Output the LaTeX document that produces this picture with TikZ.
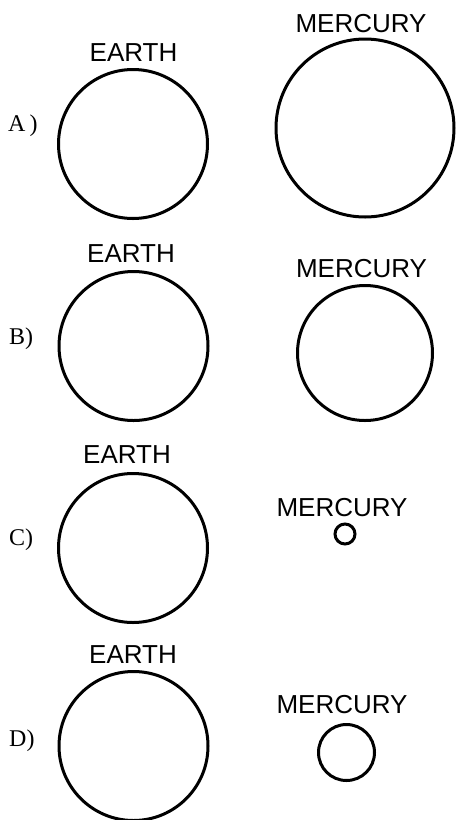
\documentclass[tikz,border=0pt]{standalone}
\usepackage{fontspec}
\setmainfont{Liberation Serif}
\newfontfamily\lblfont{Liberation Sans}
\begin{document}
\begin{tikzpicture}[x=1pt,y=-1pt,
  planet/.style={circle,draw=black,line width=3pt,inner sep=0pt,outer sep=0pt,minimum size=#1},
  planetlabel/.style={font=\lblfont\fontsize{26}{26}\selectfont,anchor=base,inner sep=0pt},
  optlabel/.style={font=\fontsize{24}{24}\selectfont,anchor=base west,inner sep=0pt}]
\useasboundingbox (0,0) rectangle (456,820);
% A
\node[optlabel] (optA) at (8,131) {A\,)};
\node[planet=149] (earthA) at (133,144) {};
\node[planetlabel] (earthAlbl) at (133.5,61) {EARTH};
\node[planet=178] (mercA) at (365,128) {};
\node[planetlabel] (mercAlbl) at (361,32) {MERCURY};
% B
\node[optlabel] (optB) at (9,344) {B)};
\node[planet=149] (earthB) at (133.5,346) {};
\node[planetlabel] (earthBlbl) at (131,262) {EARTH};
\node[planet=135] (mercB) at (365,353) {};
\node[planetlabel] (mercBlbl) at (361.5,277) {MERCURY};
% C
\node[optlabel] (optC) at (9,545) {C)};
\node[planet=149] (earthC) at (133,548) {};
\node[planetlabel] (earthClbl) at (127,463) {EARTH};
\node[planet=20] (mercC) at (345,534) {};
\node[planetlabel] (mercClbl) at (342,516) {MERCURY};
% D
\node[optlabel] (optD) at (9,746) {D)};
\node[planet=149] (earthD) at (133.5,746) {};
\node[planetlabel] (earthDlbl) at (133,663) {EARTH};
\node[planet=56] (mercD) at (346.5,752.5) {};
\node[planetlabel] (mercDlbl) at (342,713) {MERCURY};
\end{tikzpicture}
\end{document}
